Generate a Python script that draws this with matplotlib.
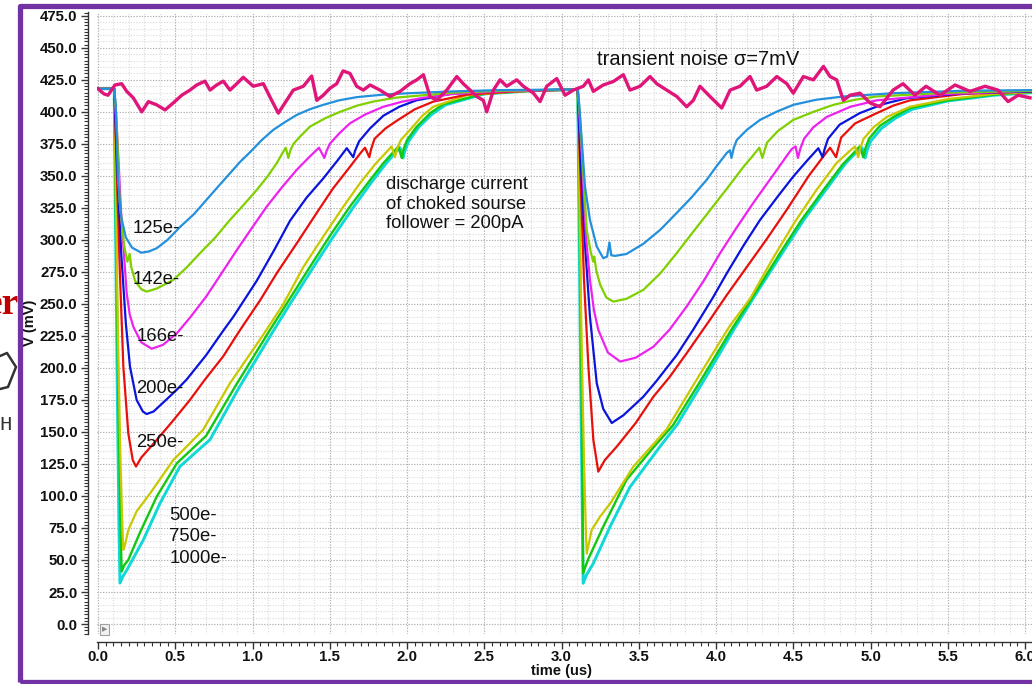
import matplotlib
matplotlib.use("Agg")
import matplotlib.pyplot as plt
import numpy as np
from matplotlib.lines import Line2D
from matplotlib.patches import Rectangle
from matplotlib.ticker import MultipleLocator, FormatStrFormatter

plt.rcParams['font.family'] = ['Liberation Sans', 'DejaVu Sans']

# ---------------- data (time in us, voltage in mV) ----------------
charge_labels = ["125e-", "142e-", "166e-", "200e-", "250e-", "500e-", "750e-", "1000e-"]
line_colors = ["#2390dc", "#80d000", "#ee22ee", "#0a14dc", "#e8100c", "#c9c800", "#12c812", "#10d8d8"]

curve_125 = [(0, 418), (0.105, 418), (0.115, 405), (0.13, 345), (0.15, 318), (0.18, 302), (0.22, 294),
             (0.28, 290), (0.33, 291), (0.38, 293.5), (0.45, 300), (0.53, 310), (0.62, 320), (0.70, 331),
             (0.78, 342), (0.854, 352), (0.92, 361), (0.98, 368), (1.06, 378), (1.135, 386), (1.21, 392),
             (1.286, 397.6), (1.37, 402), (1.458, 405.5), (1.56, 409), (1.674, 411.5), (1.85, 413.5),
             (2.0, 414.5), (2.3, 416), (2.6, 417), (3.105, 417.5),
             (3.115, 405), (3.152, 341.6), (3.184, 315.6), (3.228, 294.8), (3.27, 285.7), (3.295, 287),
             (3.31, 298), (3.322, 288), (3.346, 287.5), (3.42, 289), (3.53, 297), (3.64, 308), (3.745, 321),
             (3.84, 333), (3.94, 347), (4.0, 357), (4.07, 368), (4.09, 370), (4.10, 364), (4.115, 372),
             (4.134, 378), (4.2, 386), (4.285, 393.75), (4.39, 400), (4.50, 405.5), (4.65, 409.5),
             (4.824, 412), (5.15, 414.6), (5.6, 416.5), (6.05, 417)]

curve_142 = [(0, 418), (0.105, 418), (0.12, 395), (0.14, 330), (0.17, 295), (0.19, 283), (0.205, 289),
             (0.215, 279), (0.24, 268), (0.28, 261.5), (0.315, 259.6), (0.38, 262), (0.487, 268.75),
             (0.57, 278), (0.66, 289.6), (0.76, 302), (0.854, 315.6), (0.94, 327), (1.027, 339), (1.10, 350),
             (1.157, 360), (1.19, 367), (1.215, 372), (1.232, 364), (1.245, 370), (1.265, 375), (1.31, 381),
             (1.372, 388.5), (1.47, 395), (1.566, 400), (1.68, 405), (1.78, 408), (1.92, 411), (2.06, 412.5),
             (2.3, 415), (2.6, 416.5), (3.105, 417.5),
             (3.12, 395), (3.163, 307.8), (3.19, 290), (3.205, 283), (3.212, 287), (3.225, 276), (3.25, 265),
             (3.29, 255), (3.335, 251.8), (3.42, 254), (3.53, 261), (3.64, 274), (3.745, 289.6), (3.85, 306),
             (3.96, 323), (4.07, 340), (4.177, 357), (4.24, 366), (4.28, 372), (4.30, 364), (4.312, 369),
             (4.33, 376), (4.40, 385), (4.50, 393.75), (4.63, 400), (4.76, 405.5), (4.9, 409.5), (5.04, 412),
             (5.5, 415), (6.05, 416.5)]

curve_166 = [(0, 418), (0.105, 418), (0.125, 380), (0.15, 320), (0.17, 285), (0.186, 258), (0.205, 242),
             (0.229, 232), (0.28, 220), (0.347, 215), (0.42, 218), (0.51, 227), (0.60, 240), (0.70, 255.7),
             (0.80, 274), (0.898, 292), (1.0, 310), (1.092, 326), (1.19, 341), (1.286, 354.7), (1.37, 365),
             (1.43, 372), (1.465, 364), (1.478, 369), (1.50, 375), (1.56, 383), (1.63, 391), (1.73, 398),
             (1.847, 404), (1.97, 408), (2.105, 411), (2.3, 414), (2.6, 416), (3.105, 417.5),
             (3.125, 380), (3.16, 300), (3.184, 268.75), (3.21, 245), (3.238, 229.7), (3.30, 212), (3.38, 205),
             (3.48, 208), (3.595, 216.6), (3.70, 230), (3.81, 248), (3.92, 268), (4.026, 289.6), (4.13, 309),
             (4.24, 328.7), (4.36, 349), (4.46, 366), (4.49, 371), (4.515, 373), (4.53, 364), (4.545, 371),
             (4.57, 379), (4.63, 388), (4.716, 396), (4.87, 404), (5.04, 409), (5.5, 414), (6.05, 416.5)]

curve_200 = [(0, 418), (0.105, 418), (0.12, 370), (0.15, 290), (0.18, 235), (0.207, 201), (0.25, 175),
             (0.29, 166), (0.315, 164), (0.36, 166), (0.44, 175), (0.51, 183), (0.574, 191), (0.70, 210),
             (0.81, 229), (0.876, 240), (1.027, 268), (1.14, 292), (1.243, 315), (1.35, 333), (1.458, 348),
             (1.55, 362), (1.61, 371.6), (1.652, 364.6), (1.665, 370), (1.69, 377), (1.76, 387), (1.847, 397),
             (1.95, 404), (2.06, 409), (2.28, 414), (2.6, 416.5), (3.105, 417.5),
             (3.12, 370), (3.15, 300), (3.184, 240), (3.228, 188), (3.27, 168), (3.325, 157), (3.40, 163),
             (3.53, 177.6), (3.616, 190), (3.745, 210), (3.853, 230), (3.98, 255), (4.07, 274), (4.18, 296),
             (4.285, 315.6), (4.40, 334), (4.50, 349.5), (4.59, 362), (4.662, 371.6), (4.69, 364.6),
             (4.703, 371), (4.725, 379), (4.80, 390), (4.93, 399), (5.08, 406), (5.234, 410.7), (5.6, 414.5),
             (6.05, 416)]

curve_250 = [(0, 418), (0.105, 418), (0.12, 360), (0.14, 280), (0.164, 201), (0.196, 149), (0.225, 128),
             (0.246, 123), (0.28, 130), (0.38, 143.75), (0.48, 158), (0.595, 175), (0.69, 190.6), (0.81, 209),
             (0.92, 229.7), (1.05, 253), (1.157, 274), (1.29, 298), (1.415, 321), (1.52, 340), (1.63, 357),
             (1.70, 368), (1.728, 372), (1.756, 364.6), (1.768, 371), (1.79, 379), (1.86, 387), (1.933, 393),
             (2.05, 402), (2.17, 408), (2.39, 413.5), (2.7, 416), (3.105, 417.5),
             (3.12, 360), (3.145, 270), (3.174, 201), (3.206, 143.75), (3.238, 119), (3.28, 128),
             (3.357, 138.5), (3.48, 157), (3.595, 177.6), (3.70, 193), (3.81, 211.5), (3.96, 237.5),
             (4.07, 257), (4.2, 279), (4.33, 301), (4.457, 323.4), (4.60, 350), (4.70, 366), (4.738, 372),
             (4.777, 364.6), (4.79, 371), (4.81, 380), (4.90, 391), (5.04, 399), (5.15, 405), (5.256, 409),
             (5.6, 414), (6.05, 416)]

curve_500 = [(0, 418), (0.105, 418), (0.115, 340), (0.13, 220), (0.145, 130), (0.158, 75), (0.164, 58),
             (0.175, 62), (0.196, 73.4), (0.25, 88), (0.337, 102), (0.487, 128), (0.68, 151.6), (0.854, 188),
             (1.07, 226), (1.2, 250), (1.33, 279), (1.46, 303), (1.588, 326), (1.70, 345), (1.80, 360),
             (1.87, 369), (1.90, 373), (1.922, 364.6), (1.935, 371), (1.96, 378), (2.02, 386), (2.10, 397),
             (2.17, 404), (2.386, 413), (2.7, 416), (3.105, 417.5),
             (3.115, 340), (3.13, 220), (3.145, 130), (3.158, 70), (3.163, 55), (3.175, 62), (3.195, 73.4),
             (3.25, 84), (3.314, 94), (3.465, 123), (3.68, 152), (3.86, 188), (4.09, 233), (4.22, 254),
             (4.37, 286), (4.51, 314), (4.65, 339), (4.78, 360), (4.87, 370), (4.90, 373), (4.92, 364.6),
             (4.932, 371), (4.955, 379), (5.02, 388), (5.105, 396), (5.256, 404), (5.5, 410), (5.8, 414),
             (6.05, 415.5)]

curve_750 = [(0, 418), (0.105, 418), (0.115, 320), (0.13, 190), (0.145, 80), (0.153, 41), (0.17, 46),
             (0.196, 50), (0.27, 71), (0.38, 99.5), (0.51, 125.5), (0.70, 147), (0.89, 186), (1.113, 229.7),
             (1.22, 250), (1.372, 279), (1.50, 303), (1.63, 326), (1.75, 345), (1.847, 360), (1.915, 369),
             (1.944, 373), (1.966, 364), (1.978, 371), (2.0, 378), (2.06, 388), (2.15, 399), (2.235, 406),
             (2.49, 414), (2.8, 416.5), (3.105, 417.5),
             (3.115, 330), (3.13, 180), (3.14, 39.6), (3.155, 45), (3.174, 51), (3.27, 76), (3.42, 112.5),
             (3.595, 138), (3.72, 155), (3.90, 190), (4.10, 230), (4.25, 258), (4.414, 289.6), (4.55, 315),
             (4.695, 339), (4.82, 359), (4.90, 369), (4.93, 373), (4.953, 364.6), (4.965, 371), (4.99, 379),
             (5.06, 389), (5.148, 396), (5.256, 403), (5.5, 409), (5.8, 413.5), (6.05, 415.5)]

curve_1000 = [(0, 418), (0.105, 418), (0.112, 330), (0.125, 180), (0.135, 80), (0.142, 32), (0.16, 37),
              (0.186, 42), (0.293, 65.6), (0.40, 94), (0.53, 123), (0.725, 144), (0.91, 184), (1.13, 228),
              (1.243, 250), (1.39, 278), (1.52, 302), (1.65, 325), (1.77, 345), (1.86, 359), (1.93, 369),
              (1.955, 372), (1.975, 364), (1.987, 370), (2.01, 377), (2.075, 388), (2.16, 398), (2.25, 405.5),
              (2.5, 414), (2.8, 416.5), (3.105, 417.5),
              (3.112, 330), (3.125, 180), (3.135, 80), (3.14, 31.8), (3.16, 38), (3.206, 47.4), (3.314, 76),
              (3.443, 107), (3.637, 138.5), (3.75, 156), (3.92, 190), (4.12, 231), (4.27, 260), (4.43, 290),
              (4.57, 316), (4.71, 339), (4.84, 360), (4.92, 370), (4.945, 372), (4.965, 364), (4.978, 370),
              (5.0, 377), (5.07, 387), (5.16, 395), (5.27, 402), (5.5, 408.5), (5.8, 413), (6.05, 415)]

noise_t = [0.000, 0.039, 0.065, 0.110, 0.153, 0.186, 0.228, 0.283, 0.326, 0.380, 0.434, 0.487, 0.542,
           0.595, 0.639, 0.692, 0.725, 0.768, 0.811, 0.854, 0.898, 0.940, 1.005, 1.070, 1.124, 1.167,
           1.210, 1.264, 1.329, 1.383, 1.416, 1.458, 1.502, 1.545, 1.586, 1.631, 1.674, 1.717, 1.761,
           1.825, 1.890, 1.955, 2.019, 2.063, 2.106, 2.149, 2.192, 2.257, 2.322, 2.364, 2.408, 2.451,
           2.494, 2.516, 2.559, 2.602, 2.645, 2.710, 2.753, 2.818, 2.861, 2.904, 2.926, 2.969, 3.023,
           3.076, 3.141, 3.174, 3.206, 3.270, 3.335, 3.400, 3.443, 3.508, 3.573, 3.616, 3.681, 3.746,
           3.810, 3.853, 3.896, 3.961, 4.037, 4.091, 4.155, 4.220, 4.263, 4.328, 4.393, 4.458, 4.500,
           4.565, 4.630, 4.695, 4.738, 4.781, 4.824, 4.867, 4.932, 4.997, 5.061, 5.146, 5.210, 5.288,
           5.359, 5.450, 5.547, 5.644, 5.741, 5.825, 5.890, 5.955, 6.032]
noise_v = [418, 414, 413, 421, 422, 416, 411, 400, 408, 405.5, 401.5, 407, 413,
           417, 421, 424, 417, 421, 424, 417, 422, 427, 420, 422, 409, 399,
           407, 417, 420, 428, 409, 413, 418.5, 422, 432, 430, 420, 417, 421,
           417, 412, 416, 422, 425, 429, 412, 409, 417, 427.6, 422, 417, 412,
           409, 400, 417, 425, 420, 425, 420, 414.6, 408, 420, 422, 426, 413,
           417, 420, 425, 416, 421, 423.7, 429, 417, 420, 427.6, 422, 417, 412,
           404, 409, 420, 412, 403, 417, 420, 427.6, 417, 420, 427.6, 422, 414.6,
           427.6, 425, 435.5, 427.6, 425, 409, 413, 414.6, 407, 404, 417, 422, 413,
           420, 413, 421, 416, 420, 417, 408, 413, 411]

xticks = [0.0, 0.5, 1.0, 1.5, 2.0, 2.5, 3.0, 3.5, 4.0, 4.5, 5.0, 5.5, 6.0]
yticks = [0, 25, 50, 75, 100, 125, 150, 175, 200, 225, 250, 275, 300, 325, 350, 375, 400, 425, 450, 475]

# ---------------- figure ----------------
W, H = 1032, 684
fig = plt.figure(figsize=(W / 100, H / 100), dpi=100)
fig.patch.set_facecolor("white")

def fx(x):
    return x / W

def fy(y):
    return 1 - y / H

ax = fig.add_axes([fx(97), fy(634), (1032 - 97) / W, (634 - 12) / H])
ax.set_xlim(-0.0065, 6.045)
ax.set_ylim(-7.8, 478)

# grid
ax.vlines(np.arange(0, 6.05, 0.1), 0, 1, transform=ax.get_xaxis_transform(),
          colors="#dadada", linestyles=(0, (1, 1.5)), linewidth=0.8, zorder=0)
ax.hlines(np.arange(0, 478, 5), 0, 1, transform=ax.get_yaxis_transform(),
          colors="#dadada", linestyles=(0, (1, 1.5)), linewidth=0.8, zorder=0)
ax.vlines(np.arange(0, 6.05, 0.5), 0, 1, transform=ax.get_xaxis_transform(),
          colors="#b0b0b0", linestyles=(0, (1, 1.5)), linewidth=0.8, zorder=0)
ax.hlines(np.arange(0, 478, 25), 0, 1, transform=ax.get_yaxis_transform(),
          colors="#b0b0b0", linestyles=(0, (1, 1.5)), linewidth=0.8, zorder=0)

curves = [curve_125, curve_142, curve_166, curve_200, curve_250, curve_500, curve_750, curve_1000]
widths = [1.6, 1.6, 1.6, 1.6, 1.6, 1.6, 1.7, 2.1]
order = [7, 6, 5, 4, 3, 2, 1, 0]
for z, i in enumerate(order):
    t, v = zip(*curves[i])
    ax.plot(t, v, color=line_colors[i], lw=widths[i], zorder=2 + z, solid_joinstyle="round")

ax.plot(noise_t, noise_v, color="#e0157a", lw=2.4, zorder=12, solid_joinstyle="round")

# spines / ticks
for s in ["top", "right"]:
    ax.spines[s].set_visible(False)
ax.spines["left"].set_position(("outward", 6.5))
ax.spines["bottom"].set_position(("outward", 5.8))
for s in ["left", "bottom"]:
    ax.spines[s].set_color("#333333")
    ax.spines[s].set_linewidth(1.0)

ax.set_xticks(xticks)
ax.set_yticks(yticks)
ax.xaxis.set_major_formatter(FormatStrFormatter("%.1f"))
ax.yaxis.set_major_formatter(FormatStrFormatter("%.1f"))
ax.xaxis.set_minor_locator(MultipleLocator(0.05))
ax.yaxis.set_minor_locator(MultipleLocator(2.5))
ax.tick_params(which="major", length=5, width=1, color="#333333", labelsize=10.8)
ax.tick_params(which="minor", length=3, width=0.8, color="#333333")
ax.tick_params(axis="y", pad=2.5)
ax.tick_params(axis="x", pad=1.0)
for lab in ax.get_xticklabels() + ax.get_yticklabels():
    lab.set_fontweight("bold")
    lab.set_color("#111111")

ax.set_xlabel("time (us)", fontsize=10.5, fontweight="bold", color="#111111")
ax.set_ylabel("V (mV)", fontsize=10.5, fontweight="bold", color="#111111")
ax.xaxis.set_label_coords(0.497, -0.048)
ax.yaxis.set_label_coords(-0.064, 0.5)

# annotations
txt_kw = dict(fontsize=13.3, color="#111111", va="center", ha="left", zorder=20)
ax.text(0.2265, 309, "125e-", **txt_kw)
ax.text(0.2265, 268.75, "142e-", **txt_kw)
ax.text(0.248, 224.5, "166e-", **txt_kw)
ax.text(0.248, 183.6, "200e-", **txt_kw)
ax.text(0.248, 141.8, "250e-", **txt_kw)
ax.text(0.462, 84.5, "500e-", **txt_kw)
ax.text(0.462, 68.5, "750e-", **txt_kw)
ax.text(0.462, 51.3, "1000e-", **txt_kw)
ax.text(1.864, 328, "discharge current\nof choked sourse\nfollower = 200pA",
        fontsize=13.2, color="#111111", va="center", ha="left", linespacing=1.2, zorder=20)
ax.text(3.23, 440.6, "transient noise \u03c3=7mV", fontsize=14.5, color="#111111",
        va="center", ha="left", zorder=20)
ax.text(0.04, -4.3, "\u25b6", fontsize=5, color="#888888", ha="center", va="center", zorder=20,
        bbox=dict(boxstyle="square,pad=0.25", fc="#f2f2f2", ec="#a0a0a0", lw=0.8))

# purple frame
fig.add_artist(Rectangle((fx(19.5), fy(681.5)), fx(1200), (681.5 - 5.5) / H, fill=False,
                         ec="#7332a4", lw=3.8, transform=fig.transFigure, clip_on=False,
                         joinstyle="round"))

# cut-off content left of the frame
fig.text(fx(19), fy(304), "er", fontsize=27, fontweight="bold", family=["Liberation Serif", "DejaVu Serif"],
         color="#c00000", ha="right", va="center", zorder=-1)
fig.add_artist(Line2D([fx(0), fx(7), fx(16), fx(8), fx(0)], [fy(356), fy(353), fy(367), fy(387), fy(389)],
                      color="#333333", lw=1.8, transform=fig.transFigure))
fig.text(fx(6), fy(425), "H", fontsize=15, family=["Liberation Mono", "DejaVu Sans Mono"],
         color="#333333", ha="center", va="center")

fig.savefig("out.png", dpi=100, facecolor="white")
